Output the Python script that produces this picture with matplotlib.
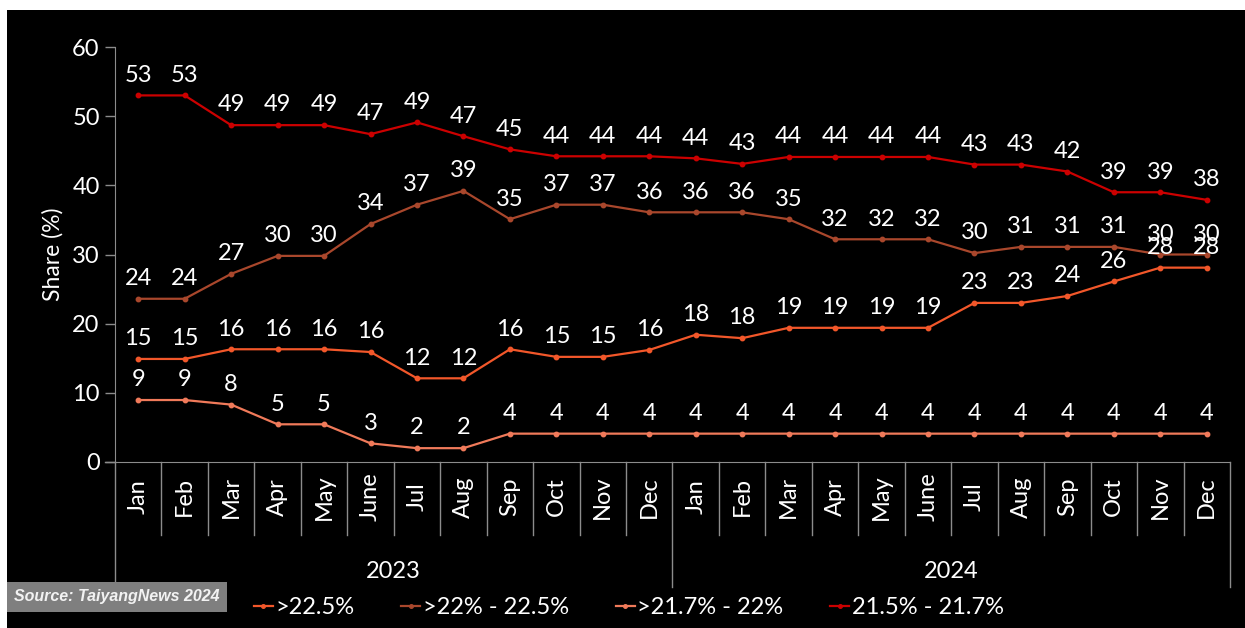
import matplotlib.pyplot as plt
import matplotlib.transforms as mtransforms
import numpy as np

# Monthly share of module efficiency bins, 2023-2024
months = ["Jan", "Feb", "Mar", "Apr", "May", "June", "Jul", "Aug",
          "Sep", "Oct", "Nov", "Dec"] * 2
years = ["2023", "2024"]

above_22_5 = [14.9, 14.9, 16.3, 16.3, 16.3, 15.9, 12.1, 12.1, 16.3, 15.2, 15.2, 16.2,
              18.4, 17.9, 19.4, 19.4, 19.4, 19.4, 23.0, 23.0, 24.0, 26.1, 28.1, 28.1]
r22_22_5 = [23.6, 23.6, 27.2, 29.8, 29.8, 34.4, 37.2, 39.2, 35.1, 37.2, 37.2, 36.1,
            36.1, 36.1, 35.1, 32.2, 32.2, 32.2, 30.2, 31.1, 31.1, 31.1, 30.0, 30.0]
r21_7_22 = [8.96, 8.96, 8.3, 5.45, 5.45, 2.7, 2.0, 2.0, 4.1, 4.1, 4.1, 4.1,
            4.1, 4.1, 4.1, 4.1, 4.1, 4.1, 4.1, 4.1, 4.1, 4.1, 4.1, 4.1]
r21_5_21_7 = [53.0, 53.0, 48.7, 48.7, 48.7, 47.4, 49.1, 47.1, 45.2, 44.2, 44.2, 44.2,
              43.9, 43.1, 44.1, 44.1, 44.1, 44.1, 43.0, 43.0, 42.0, 39.0, 39.0, 37.9]

series = [
    (">22.5%", above_22_5, "#F2572A"),
    (">22% - 22.5%", r22_22_5, "#A9472C"),
    (">21.7% - 22%", r21_7_22, "#F07A5A"),
    ("21.5% - 21.7%", r21_5_21_7, "#CC0000"),
]

FONT = "Lato"
GREY = "#8C8C8C"
FS = 17

fig = plt.figure(figsize=(12.45, 6.28), dpi=100)
fig.patch.set_facecolor("white")

# black panel behind everything, leaving a thin white margin top/left
bg = fig.add_axes([7 / 1245, 0, 1 - 7 / 1245, 1 - 10 / 628], zorder=-10)
bg.set_facecolor("black")
bg.set_xticks([])
bg.set_yticks([])
for s in bg.spines.values():
    s.set_visible(False)

ax = fig.add_axes([115 / 1245, 1 - 462 / 628, 1115 / 1245, 415 / 628])
ax.set_facecolor("none")

x = np.arange(len(months))
for label, vals, color in series:
    ax.plot(x, vals, color=color, lw=1.6, marker="o", ms=3.2, label=label,
            clip_on=False, zorder=3)
    for xi, v in zip(x, vals):
        ax.annotate(f"{v:.0f}", (xi, v), xytext=(0, 7), textcoords="offset points",
                    ha="center", va="bottom", color="white", fontsize=FS,
                    family=FONT, zorder=4)

ax.set_xlim(-0.5, len(months) - 0.5)
ax.set_ylim(0, 60)
ax.set_yticks(range(0, 61, 10))
ax.tick_params(axis="y", colors=GREY, labelcolor="white", labelsize=FS,
               length=7, width=1, direction="out", pad=4)
for t in ax.get_yticklabels():
    t.set_family(FONT)
ax.set_xticks([])
ax.set_ylabel("Share (%)", color="white", fontsize=16.5, family=FONT, labelpad=6)

for side in ["top", "right"]:
    ax.spines[side].set_visible(False)
ax.spines["left"].set_color(GREY)
ax.spines["bottom"].set_color(GREY)
ax.spines["left"].set_bounds(0, 60)

# category axis: month boxes and year groups below the plot
trans = mtransforms.blended_transform_factory(ax.transData, ax.transAxes)
ax.plot([-0.5 - 0.22, -0.5], [0, 0], color=GREY, lw=1, transform=trans, clip_on=False)
month_depth = -73 / 415
year_depth = -125 / 415
for b in np.arange(-0.5, len(months), 1.0):
    depth = year_depth if (b + 0.5) % 12 == 0 else month_depth
    ax.plot([b, b], [0, depth], color=GREY, lw=1, transform=trans, clip_on=False)
for xi, m in zip(x, months):
    ax.text(xi, -35 / 415, m, rotation=90, ha="center", va="center",
            color="white", fontsize=FS, family=FONT, transform=trans)
for i, yr in enumerate(years):
    ax.text(i * 12 + 5.5, -109 / 415, yr, ha="center", va="center",
            color="white", fontsize=FS, family=FONT, transform=trans)

# legend
leg = fig.legend(loc="center", bbox_to_anchor=(0.505, 1 - 608 / 628), ncol=4,
                 frameon=False, prop={"family": FONT, "size": FS},
                 handlelength=0.8, handletextpad=0.1, columnspacing=2.0,
                 markerscale=0.8)
for t in leg.get_texts():
    t.set_color("white")

# source tag
fig.text(14 / 1245, 1 - 597 / 628, "Source: TaiyangNews 2024", ha="left", va="center",
         fontsize=11.5, fontweight="bold", style="italic", color="#F2F2F2",
         family="Liberation Sans",
         bbox=dict(boxstyle="square,pad=0.45", facecolor="#7F7F7F", edgecolor="none"))

fig.savefig("out.png", dpi=100, facecolor=fig.get_facecolor())
